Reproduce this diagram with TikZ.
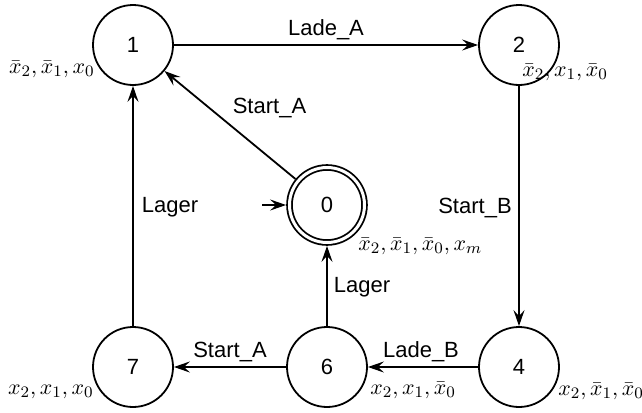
\documentclass[tikz,border=0pt]{standalone}
\usepackage{fontspec}
\setmainfont{Liberation Sans}
\usetikzlibrary{arrows.meta}
\begin{document}
\begin{tikzpicture}[x=0.5pt,y=-0.5pt,
  state/.style={circle,draw,line width=0.9pt,minimum size=40pt,inner sep=0pt,
    font=\fontsize{11}{13}\selectfont},
  accstate/.style={state,double,double distance=1.5pt,minimum size=37.5pt,outer sep=1.7pt},
  conn/.style={line width=0.9pt,-{Stealth[length=8pt,width=5.5pt,inset=3pt]}},
  lbl/.style={font=\fontsize{11}{13}\selectfont,inner sep=0pt,anchor=base},
  outlbl/.style={font=\fontsize{11}{13}\selectfont,inner sep=0pt}]
\useasboundingbox (0,0) rectangle (642,412);
\node[state] (n1) at (133,45) {1};
\node[state] (n2) at (519,45) {2};
\node[accstate] (n0) at (327,205) {0};
\node[state] (n7) at (133,367) {7};
\node[state] (n6) at (327,367) {6};
\node[state] (n4) at (519,367) {4};
\coordinate (init) at (262,205);

\node[outlbl,anchor=base east] (o1) at (95,73) {$\bar{x}_2,\bar{x}_1,x_0$};
\node[outlbl,anchor=base west] (o2) at (522,76) {$\bar{x}_2,x_1,\bar{x}_0$};
\node[outlbl,anchor=base west] (o0) at (358,250) {$\bar{x}_2,\bar{x}_1,\bar{x}_0,x_m$};
\node[outlbl,anchor=base east] (o7) at (94,394) {$x_2,x_1,x_0$};
\node[outlbl,anchor=base west] (o6) at (370,394) {$x_2,x_1,\bar{x}_0$};
\node[outlbl,anchor=base west] (o4) at (558,395) {$x_2,\bar{x}_1,\bar{x}_0$};

\draw[conn] (init) -- (n0);
\draw[conn] (n1) -- node[lbl,yshift=5pt] (l12) {Lade\_A} (n2);
\draw[conn] (n0) -- node[lbl,xshift=19.75pt,yshift=6pt] (l01) {Start\_A} (n1);
\draw[conn] (n7) -- node[lbl,xshift=18.5pt,yshift=-3pt] (l71) {Lager} (n1);
\draw[conn] (n2) -- node[lbl,xshift=-22pt,yshift=-3.5pt] (l24) {Start\_B} (n4);
\draw[conn] (n6) -- node[lbl,xshift=17.5pt,yshift=-3pt] (l60) {Lager} (n0);
\draw[conn] (n6) -- node[lbl,yshift=5pt] (l67) {Start\_A} (n7);
\draw[conn] (n4) -- node[lbl,xshift=-1pt,yshift=5pt] (l46) {Lade\_B} (n6);
\end{tikzpicture}
\end{document}
